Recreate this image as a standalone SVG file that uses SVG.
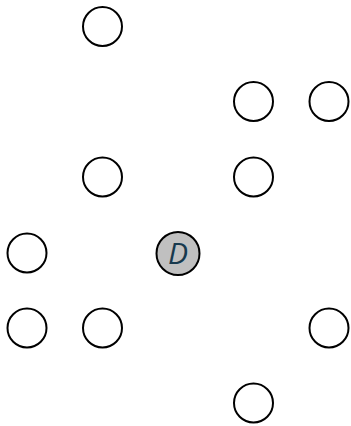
<svg xmlns="http://www.w3.org/2000/svg" width="351" height="426" viewBox="0 0 351 426">
<style>
.n{fill:#fff;stroke:#000;stroke-width:2}
.d{fill:#c0c0c0;stroke:#000;stroke-width:2}
.t{font-family:"Open Sans","DejaVu Sans",sans-serif;font-style:italic;font-size:30px;fill:#17394d;text-anchor:middle}
</style>
<rect width="351" height="426" fill="#fff"/>
<g id="connectors"></g>
<g id="n1"><circle class="n" cx="102.5" cy="26.5" r="19.5"/></g>
<g id="n2"><circle class="n" cx="253.5" cy="101.5" r="19.5"/></g>
<g id="n3"><circle class="n" cx="329" cy="101.5" r="19.5"/></g>
<g id="n4"><circle class="n" cx="102.5" cy="177" r="19.5"/></g>
<g id="n5"><circle class="n" cx="253.5" cy="177" r="19.5"/></g>
<g id="n6"><circle class="n" cx="27" cy="253" r="19.5"/></g>
<g id="D"><circle class="d" cx="178" cy="253.5" r="21.5"/><text class="t" x="178" y="264">D</text></g>
<g id="n7"><circle class="n" cx="27" cy="328" r="19.5"/></g>
<g id="n8"><circle class="n" cx="102.5" cy="328" r="19.5"/></g>
<g id="n9"><circle class="n" cx="329" cy="328" r="19.5"/></g>
<g id="n10"><circle class="n" cx="253.5" cy="403" r="19.5"/></g>
</svg>
